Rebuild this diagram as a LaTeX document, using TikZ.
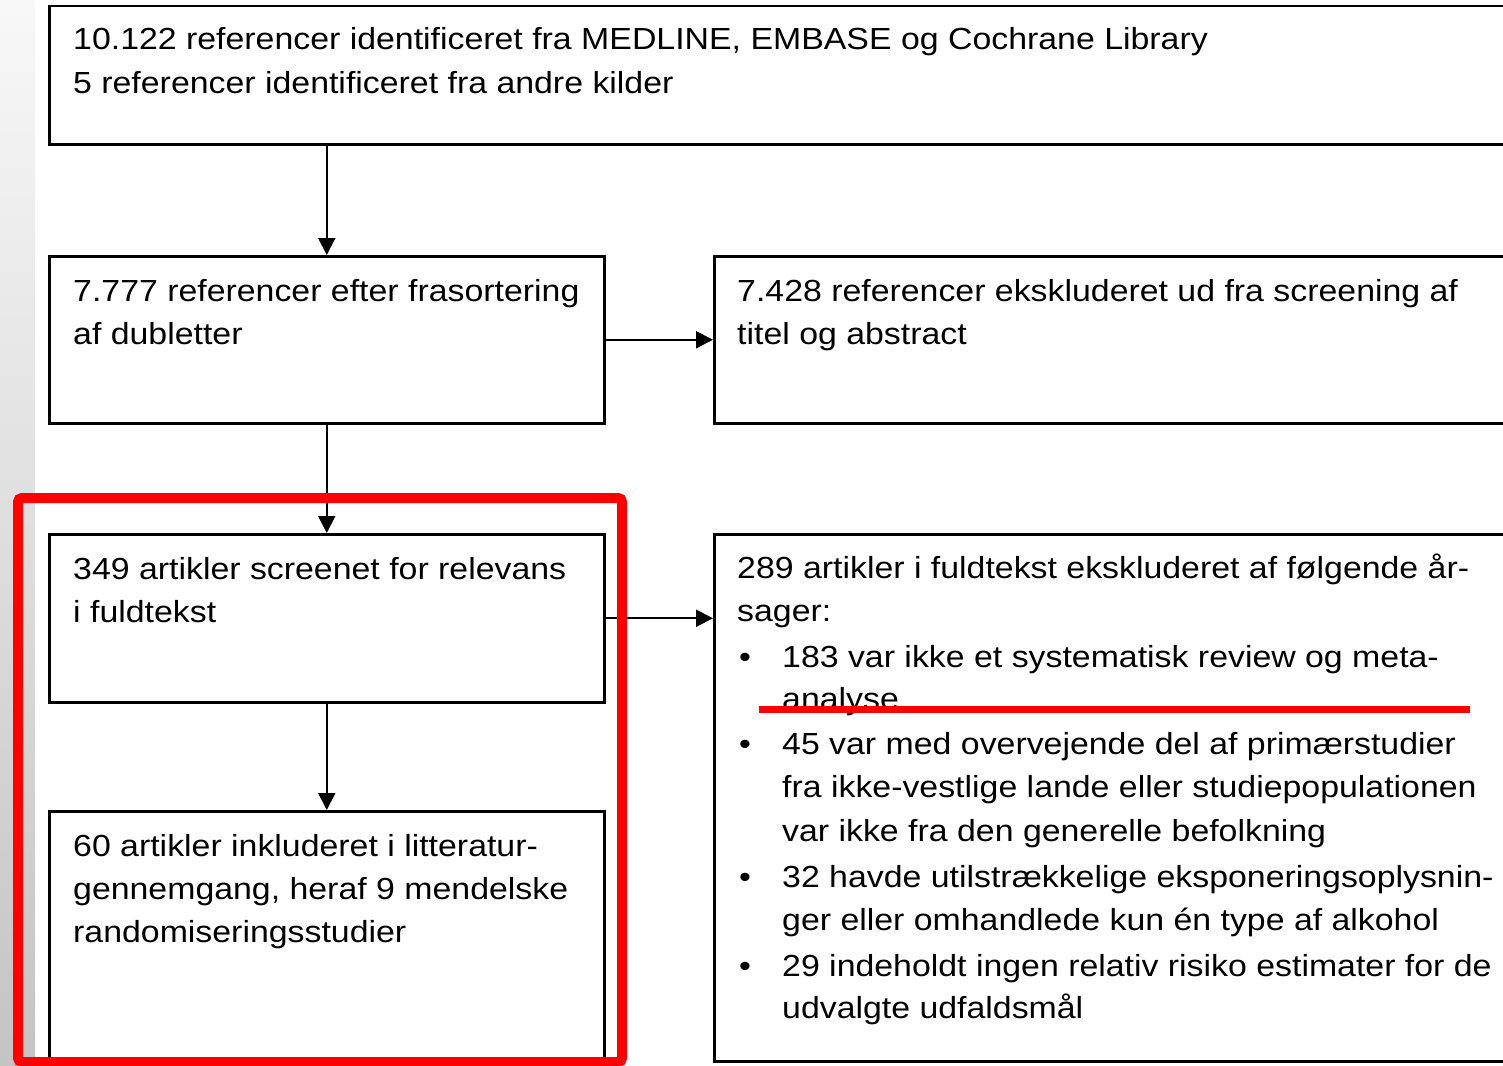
\documentclass[tikz,border=0pt]{standalone}
\usepackage{fontspec}
\setmainfont{Liberation Sans}[FakeStretch=1.11]
\usetikzlibrary{arrows.meta}
\definecolor{hlred}{RGB}{255,0,0}
\definecolor{stripTop}{RGB}{248,248,248}
\definecolor{stripBot}{RGB}{196,196,196}
\begin{document}
\begin{tikzpicture}[x=1pt,y=-1pt,
  box/.style={draw=black, line width=2.5pt, inner sep=0pt, anchor=north west, fill=white},
  lbl/.style={anchor=base west, inner sep=0pt, font=\fontsize{30.5}{43}\selectfont, text=black},
  bul/.style={anchor=base, inner sep=0pt, font=\fontsize{30.5}{43}\selectfont, text=black},
  conn/.style={draw=black, line width=2pt, -{Triangle[length=17pt,width=17pt]}}]
\useasboundingbox (0,0) rectangle (1503,1065);
\clip (0,0) rectangle (1503,1065);
\fill[white] (0,0) rectangle (1503,1065);
\shade[top color=stripTop, bottom color=stripBot] (0,0) rectangle (35,1065);

% boxes
\node[box, minimum width=1480pt, minimum height=138pt] (b1) at (48,5) {};
\node[box, minimum width=555pt, minimum height=167pt] (b2) at (48,255) {};
\node[box, minimum width=830pt, minimum height=167pt] (b3) at (713,255) {};
\node[box, minimum width=555pt, minimum height=168pt] (b4) at (48,533) {};
\node[box, minimum width=830pt, minimum height=527pt] (b5) at (713,533) {};
\node[box, minimum width=555pt, minimum height=249pt] (b6) at (48,810) {};

% connectors
\draw[conn] (b1.south -| b2.north) -- (b2.north);
\draw[conn] (b2.east) -- (b2.east -| b3.west);
\draw[conn] (b2.south) -- (b4.north);
\draw[conn] (b4.east) -- (b4.east -| b5.west);
\draw[conn] (b4.south) -- (b6.north);

% texts
\node[lbl] (t1a) at (73,50) {10.122 referencer identificeret fra MEDLINE, EMBASE og Cochrane Library};
\node[lbl] (t1b) at (73,93) {5 referencer identificeret fra andre kilder};

\node[lbl] (t2a) at (73,301) {7.777 referencer efter frasortering};
\node[lbl] (t2b) at (73,344) {af dubletter};

\node[lbl] (t3a) at (737,301) {7.428 referencer ekskluderet ud fra screening af};
\node[lbl] (t3b) at (737,344) {titel og abstract};

\node[lbl] (t4a) at (73,579) {349 artikler screenet for relevans};
\node[lbl] (t4b) at (73,622) {i fuldtekst};

\node[lbl] (t6a) at (73,856) {60 artikler inkluderet i litteratur-};
\node[lbl] (t6b) at (73,899) {gennemgang, heraf 9 mendelske};
\node[lbl] (t6c) at (73,942) {randomiseringsstudier};

\node[lbl] (t5a) at (737,578) {289 artikler i fuldtekst ekskluderet af følgende år-};
\node[lbl] (t5b) at (737,621) {sager:};
\node[bul] (u1) at (745,667) {•};
\node[lbl] (t5c) at (782,667) {183 var ikke et systematisk review og meta-};
\node[lbl] (t5d) at (782,709) {analyse};
\node[bul] (u2) at (745,754) {•};
\node[lbl] (t5e) at (782,754) {45 var med overvejende del af primærstudier};
\node[lbl] (t5f) at (782,797) {fra ikke-vestlige lande eller studiepopulationen};
\node[lbl] (t5g) at (782,841) {var ikke fra den generelle befolkning};
\node[bul] (u3) at (745,887) {•};
\node[lbl] (t5h) at (782,887) {32 havde utilstrækkelige eksponeringsoplysnin-};
\node[lbl] (t5i) at (782,930) {ger eller omhandlede kun én type af alkohol};
\node[bul] (u4) at (745,976) {•};
\node[lbl] (t5j) at (782,976) {29 indeholdt ingen relativ risiko estimater for de};
\node[lbl] (t5k) at (782,1018) {udvalgte udfaldsmål};

% highlight annotations
\draw[hlred, line width=10pt, rounded corners=4pt] (18,498) rectangle (622,1062);
\draw[hlred, line width=7pt] (759,709.5) -- (1470,709.5);
\end{tikzpicture}
\end{document}
